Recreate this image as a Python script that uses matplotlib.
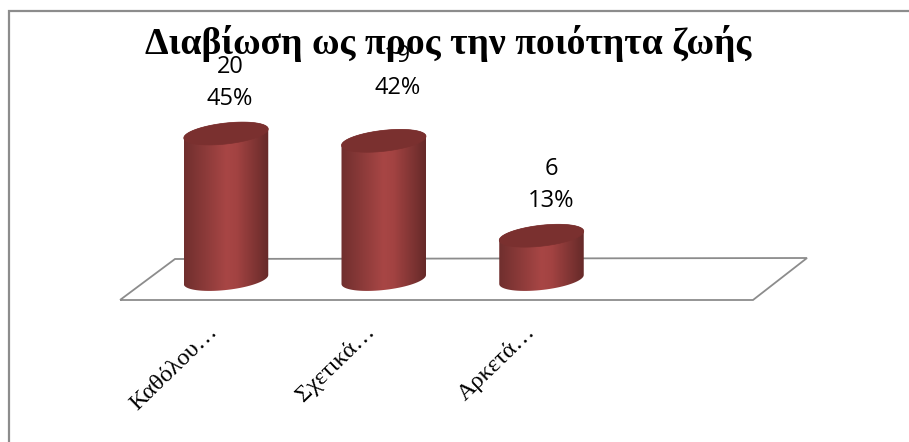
import numpy as np
import matplotlib
matplotlib.use('Agg')
import matplotlib.pyplot as plt
from matplotlib.colors import LinearSegmentedColormap
from matplotlib.patches import PathPatch
from matplotlib.path import Path

W, H = 909, 442

categories = ['Καθόλου…', 'Σχετικά…', 'Αρκετά…']
counts = [20, 19, 6]
percents = ['45%', '42%', '13%']
title = 'Διαβίωση ως προς την ποιότητα ζωής'

# pixel layout
BAR_SPACING = 157.75
FIRST_X = 226
BASE_Y = 279.5
PX_PER_UNIT = 7.3
BAR_W = 84.5
ELL_B = 10.5    # half height of the cylinder ends
ELL_TILT = 4.5  # how far the right end of an ellipse rises
GREY = '#8c8c8c'
# the labels are not centred on the bars in the original
LABEL_DX = [4, 14, 10]
LABEL_LIFT = [0, 18, 0]
CAT_DX = [0, 0, 3]

fig = plt.figure(figsize=(W / 100, H / 100), dpi=100)
ax = fig.add_axes([0, 0, 1, 1])
ax.set_xlim((0 - FIRST_X) / BAR_SPACING, (W - FIRST_X) / BAR_SPACING)
ax.set_ylim((BASE_Y - H) / PX_PER_UNIT, BASE_Y / PX_PER_UNIT)
ax.axis('off')


# axes-fraction helper, y measured from the top like the picture
def px(x, y):
    return x / W, 1 - y / H


# only the top and left edges of the frame are in the picture
ax.plot([px(9, 442)[0], px(9, 0)[0], 1], [0, px(0, 10.5)[1], px(0, 10.5)[1]], transform=ax.transAxes,
        color=GREY, lw=1.6, solid_joinstyle='miter', zorder=1)

# floor
floor = [px(120, 300), px(175, 259), px(807, 258), px(753, 300), px(120, 300)]
ax.add_patch(PathPatch(Path(floor), transform=ax.transAxes, fc='white', ec=GREY, lw=1.3, zorder=2))

cmap = LinearSegmentedColormap.from_list('cyl', [(0, '#702f2e'), (0.5, '#a84645'), (0.62, '#a34342'), (1, '#662a29')])
grad = np.linspace(0, 1, 128).reshape(1, -1)
half_w = BAR_W / BAR_SPACING / 2
b = ELL_B / PX_PER_UNIT
tilt = ELL_TILT / PX_PER_UNIT
t = np.linspace(0, 2 * np.pi, 80)


# tilted cylinder end around category i at value v
def end_xy(i, v, angles):
    return i + half_w * np.cos(angles), v + b * np.sin(angles) + tilt * np.cos(angles)


for i, v in enumerate(counts):
    # side of the cylinder, gradient clipped to the outline
    im = ax.imshow(grad, extent=[i - half_w, i + half_w, -2 * b, v + 2 * b], aspect='auto', cmap=cmap, zorder=3 + i)
    xb, yb = end_xy(i, 0, np.linspace(np.pi, 2 * np.pi, 40))
    xt, yt = end_xy(i, v, np.linspace(0, np.pi, 40))
    outline = list(zip(xb, yb)) + list(zip(xt, yt))
    outline.append(outline[0])
    clip = PathPatch(Path(outline), transform=ax.transData, fc='none', ec='none')
    ax.add_patch(clip)
    im.set_clip_path(clip)

    # top face
    xf, yf = end_xy(i, v, t)
    ax.fill(xf, yf, color='#7a302f', lw=0.5, zorder=3.5 + i)

    # value labels
    lx = i + LABEL_DX[i] / BAR_SPACING
    ly = v + (ELL_B + LABEL_LIFT[i]) / PX_PER_UNIT
    ax.text(lx, ly + 56 / PX_PER_UNIT, str(v), fontsize=17, family='Open Sans', ha='center', va='center', zorder=9)
    ax.text(lx, ly + 24 / PX_PER_UNIT, percents[i], fontsize=17, family='Open Sans', ha='center', va='center', zorder=9)

    # category labels
    ax.text(i - 0.12 + CAT_DX[i] / BAR_SPACING, -5.7, categories[i], fontsize=17.5, family='Liberation Serif', rotation=44,
            rotation_mode='anchor', ha='right', va='top', zorder=9)

ax.set_xlim((0 - FIRST_X) / BAR_SPACING, (W - FIRST_X) / BAR_SPACING)
ax.set_ylim((BASE_Y - H) / PX_PER_UNIT, BASE_Y / PX_PER_UNIT)

ax.text(448 / W, 1 - 43 / H, title, transform=ax.transAxes, fontsize=27.2, fontweight='bold',
        family='Liberation Serif', ha='center', va='center', zorder=10)

fig.savefig('out.png', dpi=100)
